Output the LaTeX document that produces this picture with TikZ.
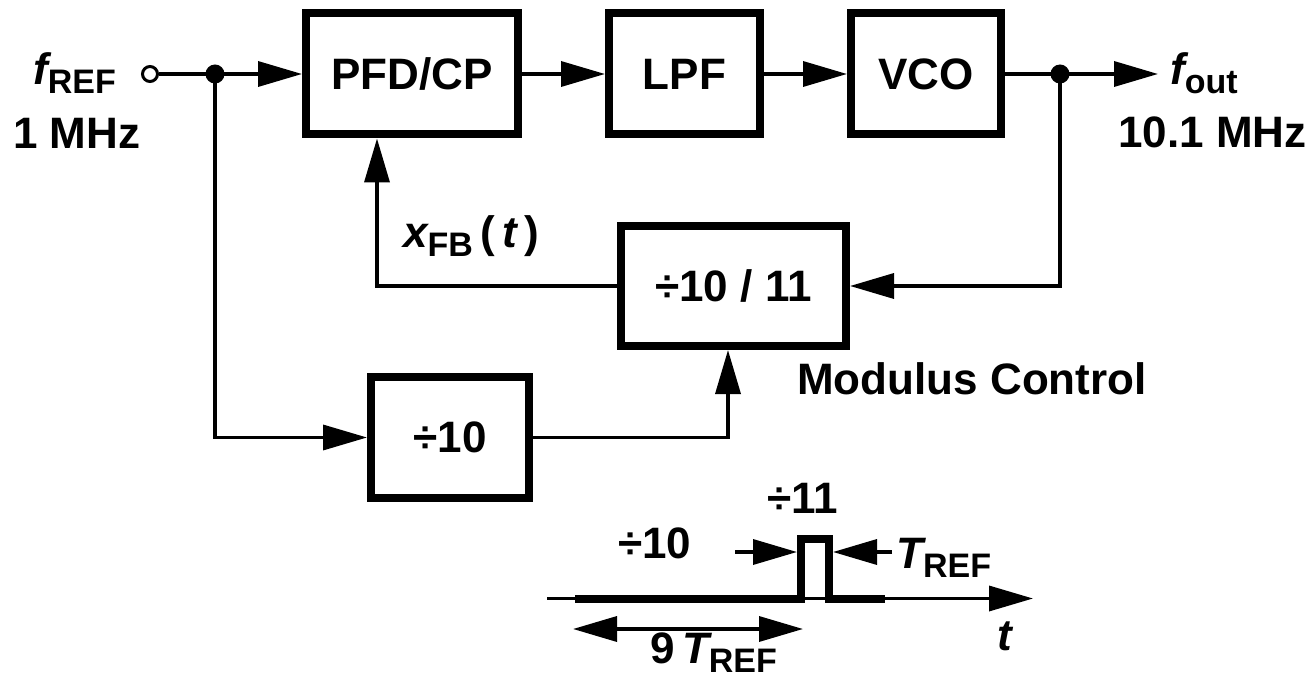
\documentclass[tikz,border=0pt]{standalone}
\usepackage{fontspec}
\setmainfont{Liberation Sans}
\usetikzlibrary{arrows.meta,calc}
\newcommand\mainf{\fontsize{44}{50}\selectfont\bfseries}
\newcommand\subs[1]{\raisebox{-9pt}{\fontsize{34}{36}\selectfont\upshape #1}}
\begin{document}
\begin{tikzpicture}[x=1pt,y=-1pt,
  wire/.style={line width=3.5pt},
  arr/.style={wire,-{Triangle[length=44pt,width=25pt]}},
  darr/.style={wire,{Triangle[length=44pt,width=25pt]}-{Triangle[length=44pt,width=25pt]}},
  blk/.style={draw,line width=8pt,inner sep=0pt,font=\mainf},
  lbl/.style={font=\mainf,inner sep=0pt},
  thick8/.style={line width=8pt,line join=miter}]
\useasboundingbox (0,0) rectangle (1314,692);
% blocks
\node[blk,minimum width=212pt,minimum height=121pt] (pfd) at (412,74) {PFD/CP};
\node[blk,minimum width=151pt,minimum height=121pt] (lpf) at (684.5,74) {LPF};
\node[blk,minimum width=150pt,minimum height=121pt] (vco) at (926,74) {VCO};
\node[blk,minimum width=225pt,minimum height=120pt] (div) at (733.5,286) {÷10 / 11};
\node[blk,minimum width=158pt,minimum height=121pt] (d10) at (450,437.5) {÷10};
% terminals and junctions
\node[circle,draw,line width=3pt,minimum size=15pt,inner sep=0pt,fill=white] (inc) at (150,74) {};
\coordinate (j1) at (215,74);
\coordinate (j2) at (1060,74);
\coordinate (out) at (1158,74);
\coordinate (fbx) at (377,0);
\coordinate (mcx) at (728,0);
% connectors
\draw[arr] (inc) -- (pfd.west);
\draw[arr] (pfd) -- (lpf);
\draw[arr] (lpf) -- (vco);
\draw[arr] (vco.east) -- (out);
\draw[arr] (j2) |- (div.east);
\draw[arr] (div.west) -| (pfd.south -| fbx);
\draw[arr] (j1) |- (d10.west);
\draw[arr] (d10.east) -| (div.south -| mcx);
\fill (j1) circle (9.5);
\fill (j2) circle (9.5);
% labels
\node[lbl,anchor=base west] (lref) at (33,85) {{\itshape f}\subs{REF}};
\node[lbl,anchor=base west] (l1m) at (13,149) {1 MHz};
\node[lbl,anchor=base west] (lout) at (1170,85) {{\itshape f}\subs{out}};
\node[lbl,anchor=base east] (l10m) at (1307,148) {10.1 MHz};
\node[lbl,anchor=base west] (lfb) at (403,248) {{\itshape x}\subs{FB}\,(\,{\itshape t}\,)};
\node[lbl,anchor=base west] (lmc) at (797,395) {Modulus Control};
% timing diagram
\coordinate (a0) at (547,598.5);
\coordinate (a1) at (575,598.5);
\coordinate (pl) at (801,598.5);
\coordinate (plt) at (801,539);
\coordinate (prt) at (829,539);
\coordinate (pr) at (829,598.5);
\coordinate (a2) at (885,598.5);
\coordinate (aend) at (1033,598.5);
\draw[arr] (a0) -- (aend);
\draw[thick8] (a1) -- (pl) -- (plt) -- (prt) -- (pr) -- (a2);
\coordinate (la) at (735,552);
\coordinate (lb) at (797,552);
\coordinate (ra) at (892,552);
\coordinate (rb) at (833,552);
\draw[arr] (la) -- (lb);
\draw[arr] (ra) -- (rb);
\coordinate (da) at (573,629);
\coordinate (db) at (803,629);
\draw[darr] (da) -- (db);
\node[lbl,anchor=base west] (l11) at (767,513) {÷11};
\node[lbl,anchor=base west] (l10) at (618,558) {÷10};
\node[lbl,anchor=base west] (ltr) at (896,568) {{\itshape T}\subs{REF}};
\node[lbl,anchor=base west] (l9t) at (650,663) {9\,{\itshape T}\subs{REF}};
\node[lbl,anchor=base west] (lt) at (997,650) {\itshape t};
\end{tikzpicture}
\end{document}
